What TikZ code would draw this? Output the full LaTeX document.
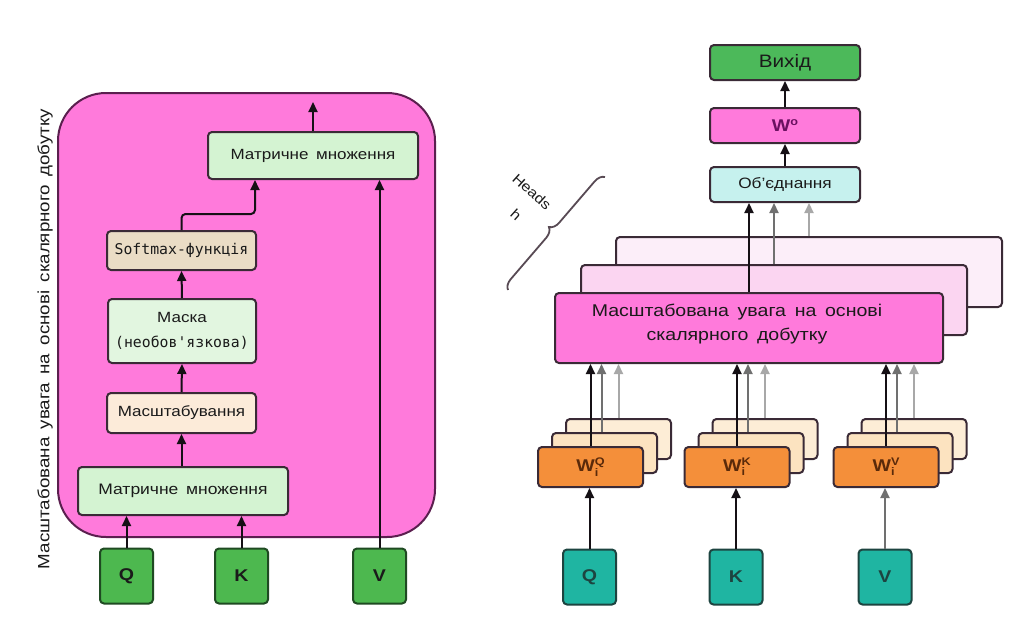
\documentclass[tikz,border=0pt]{standalone}
\usepackage{fontspec}
\setmainfont{Liberation Sans}[FakeStretch=1.15, WordSpace=1.6]
\setmonofont{DejaVu Sans Mono}
\usetikzlibrary{arrows.meta,decorations.pathreplacing,calc}
\definecolor{mag}{HTML}{FF7ADB}
\definecolor{bigbdr}{HTML}{5B1F4F}
\definecolor{bdr}{HTML}{3A2A36}
\definecolor{lgreen}{HTML}{D4F3D2}
\definecolor{lgreenb}{HTML}{E2F6E0}
\definecolor{softc}{HTML}{EADCC5}
\definecolor{scalec}{HTML}{FCEBD9}
\definecolor{qkvg}{HTML}{4DB84F}
\definecolor{qkvgb}{HTML}{1F4A22}
\definecolor{outg}{HTML}{4CB95A}
\definecolor{catc}{HTML}{C6F1EE}
\definecolor{att2c}{HTML}{FBD5F1}
\definecolor{att3c}{HTML}{FCEEF9}
\definecolor{orng}{HTML}{F48F3A}
\definecolor{wb2}{HTML}{FCE3C0}
\definecolor{wb3}{HTML}{FDEDD6}
\definecolor{teal}{HTML}{1FB5A2}
\definecolor{tealb}{HTML}{1D4440}
\definecolor{txt}{HTML}{1A1A1A}
\definecolor{arrk}{HTML}{151015}
\definecolor{arrg}{HTML}{707070}
\definecolor{arrl}{HTML}{A8A8A8}
\definecolor{wtxt}{HTML}{5A2A0A}
\definecolor{wotxt}{HTML}{6A1060}
\newcommand\fsz[2]{\fontsize{#1}{#2}\selectfont}
\begin{document}
\begin{tikzpicture}[x=1pt,y=-1pt,
  box/.style={draw=bdr, line width=2pt, rounded corners=4pt, inner sep=0pt, align=center, text=txt},
  arr/.style={line width=2pt, draw=arrk, -{Triangle[length=10pt,width=9pt]}},
  arrgray/.style={arr, draw=arrg},
  arrlight/.style={arr, draw=arrl},
  wbox/.style={box, draw=bdr, minimum width=105pt, minimum height=40pt},
  sq/.style={box, minimum width=53pt, minimum height=55pt, font=\fsz{17}{19}\bfseries}]
\useasboundingbox (0,0) rectangle (1019,624);
\fill[white] (0,0) rectangle (1019,624);

% ---------------- left panel ----------------
\node[draw=bigbdr, fill=mag, line width=2pt, rounded corners=48pt,
      minimum width=377pt, minimum height=444pt, inner sep=0pt] (big) at (246.5,315) {};
\node[rotate=90, font=\fsz{16.3}{19}, text=txt] (vlabel) at (45,339)
  {Масштабована увага на основі скалярного добутку};

\node[box, fill=lgreen, minimum width=210pt, minimum height=47pt, font=\fsz{14.8}{17}] (mm2) at (313,155.5) {Матричне множення};
\node[box, fill=softc, minimum width=149pt, minimum height=39pt, font=\fsz{14.8}{17}\ttfamily] (soft) at (181.5,250.5) {Softmax-функція};
\node[box, fill=lgreenb, minimum width=148pt, minimum height=64pt, font=\fsz{14.8}{25}] (mask) at (182,331) {Маска\\\ttfamily\fsz{14.8}{25}(необов'язкова)};
\node[box, fill=scalec, minimum width=149pt, minimum height=40pt, font=\fsz{14.8}{17}] (scale) at (181.5,413) {Масштабування};
\node[box, fill=lgreen, minimum width=210pt, minimum height=48pt, font=\fsz{15.2}{17}] (mm1) at (183,491) {Матричне множення};

\node[sq, fill=qkvg, draw=qkvgb] (lq) at (126.5,576) {Q};
\node[sq, fill=qkvg, draw=qkvgb] (lk) at (241.5,576) {K};
\node[sq, fill=qkvg, draw=qkvgb] (lv) at (379.5,576) {V};

\coordinate (lout) at (313,102);
\draw[arr] (lq.north) -- (lq.north |- mm1.south);
\draw[arr] (lk.north) -- (lk.north |- mm1.south);
\draw[arr] (lv.north) -- (lv.north |- mm2.south);
\draw[arr] (mm1.north -| scale) -- (scale.south);
\draw[arr] (scale.north) -- (mask.south);
\draw[arr] (mask.north) -- (soft.south);
\draw[arr, rounded corners=4pt] (soft.north) -- ++(0,-16) -| ([xshift=-58pt]mm2.south);
\draw[arr] (mm2.north) -- (lout);

% ---------------- right panel ----------------
\node[box, fill=outg, minimum width=150pt, minimum height=35pt, font=\fsz{18}{20}] (out) at (785,62.5) {Вихід};
\node[box, fill=mag, minimum width=150pt, minimum height=35pt, font=\fsz{17}{18}\bfseries, text=wotxt] (wo) at (785,125.5) {W\raisebox{0.6ex}{\fsz{11}{12}o}};
\node[box, fill=catc, minimum width=150pt, minimum height=35pt, font=\fsz{15}{17}] (cat) at (785,184.5) {Об’єднання};

\node[box, fill=att3c, minimum width=386pt, minimum height=70pt] (att3) at (809,272) {};
\node[box, fill=att2c, minimum width=386pt, minimum height=70pt] (att2) at (774,300) {};
\node[box, fill=mag, minimum width=388pt, minimum height=70pt] (att1) at (749,328) {};
\node[align=center, font=\fsz{17}{24}, text=txt] (atttext) at (737,324) {Масштабована увага на основі\\скалярного добутку};

\draw[arr] (att1.north) -- (att1.north |- cat.south);
\draw[arrgray] (att2.north) -- (att2.north |- cat.south);
\draw[arrlight] (att3.north) -- (att3.north |- cat.south);
\draw[arr] (cat.north) -- (wo.south);
\draw[arr] (wo.north) -- (out.south);

% heads brace
\coordinate (brA) at (508,290);
\coordinate (brB) at (605,177);
\draw[line width=1.8pt, draw=bdr!85, decorate, decoration={brace, amplitude=10pt}] (brA) -- (brB);
\node[rotate=-42, font=\fsz{14}{15}, text=txt] (heads) at (532,192) {Heads};
\node[rotate=-42, font=\fsz{14}{15}, text=txt] (hh) at (516,215) {h};

% projection groups
\foreach \n/\x/\lab/\inarr in {q/590.5/Q/arr, k/737/K/arr, v/886/V/arrgray}{
  \node[wbox, fill=wb3] (w\n3) at (\x+28,439) {};
  \node[wbox, fill=wb2] (w\n2) at (\x+14,453) {};
  \node[wbox, fill=orng, font=\fsz{17}{18}\bfseries, text=wtxt] (w\n1) at (\x,467)
    {W\rlap{\raisebox{-0.45ex}{\fsz{11}{12}i}}\raisebox{0.7ex}{\fsz{11}{12}\lab}};
  \node[sq, fill=teal, draw=tealb, text=tealb] (t\n) at (\x-1,577) {\lab};
  \draw[arr] (w\n1.north) -- (w\n1.north |- att1.south);
  \draw[arrgray] ([xshift=-3pt]w\n2.north) -- ([xshift=-3pt]w\n2.north |- att1.south);
  \draw[arrlight] (w\n3.north) -- (w\n3.north |- att1.south);
  \draw[\inarr] (t\n.north) -- (t\n.north |- w\n1.south);
}
\end{tikzpicture}
\end{document}
